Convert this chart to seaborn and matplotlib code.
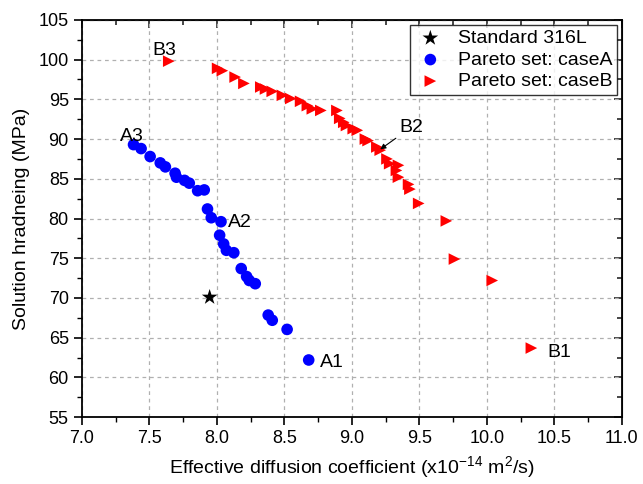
import matplotlib
matplotlib.use("Agg")
import matplotlib.pyplot as plt
import seaborn as sns
import pandas as pd
from matplotlib.ticker import MultipleLocator

# data
std_x = [7.946]
std_y = [70.1]

caseA_x = [7.382, 7.438, 7.505, 7.58, 7.618, 7.69, 7.70, 7.76, 7.795, 7.857,
           7.906, 7.93, 7.958, 8.03, 8.02, 8.05, 8.07, 8.125, 8.18, 8.22,
           8.24, 8.284, 8.38, 8.41, 8.52, 8.68]
caseA_y = [89.3, 88.8, 87.8, 87.0, 86.5, 85.7, 85.2, 84.8, 84.45, 83.5,
           83.6, 81.2, 80.1, 79.6, 77.9, 76.8, 76.0, 75.7, 73.7, 72.7,
           72.2, 71.8, 67.85, 67.2, 66.05, 62.2]

caseB_x = [7.643, 8.005, 8.04, 8.135, 8.20, 8.325, 8.36, 8.41, 8.485, 8.547,
           8.62, 8.67, 8.707, 8.77, 8.889, 8.91, 8.94, 8.96, 9.01, 9.04,
           9.10, 9.12, 9.185, 9.21, 9.26, 9.28, 9.345, 9.33, 9.345, 9.42,
           9.43, 9.495, 9.70, 9.76, 10.04, 10.33]
caseB_y = [99.8, 98.9, 98.6, 97.8, 97.0, 96.55, 96.3, 96.0, 95.5, 95.1,
           94.75, 94.2, 93.8, 93.6, 93.6, 92.6, 92.1, 91.7, 91.3, 91.1,
           90.0, 89.8, 89.0, 88.6, 87.5, 86.9, 86.7, 86.05, 85.2, 84.3,
           83.7, 81.9, 79.7, 74.9, 72.2, 63.7]

labels = ["Standard 316L", "Pareto set: caseA", "Pareto set: caseB"]

#-------------------------------------------------------------------------------#

sns.set_style("white")
plt.rcParams['font.family'] = ['Liberation Sans', 'DejaVu Sans']
plt.rcParams['mathtext.fontset'] = 'custom'
plt.rcParams['mathtext.rm'] = 'Liberation Sans'
plt.rcParams['text.color'] = 'black'
plt.rcParams['axes.labelcolor'] = 'black'

fig = plt.figure(figsize=(6.43, 4.84), dpi=100)
ax = fig.add_axes([0.1275, 0.138, 0.8395, 0.821])

dfA = pd.DataFrame({"x": caseA_x, "y": caseA_y})
dfB = pd.DataFrame({"x": caseB_x, "y": caseB_y})
dfS = pd.DataFrame({"x": std_x, "y": std_y})

sns.scatterplot(data=dfS, x="x", y="y", marker="*", color="black", s=140,
                edgecolor="none", label=labels[0], ax=ax, zorder=3)
sns.scatterplot(data=dfA, x="x", y="y", marker="o", color="#0000ff", s=70,
                edgecolor="none", label=labels[1], ax=ax, zorder=3)
sns.scatterplot(data=dfB, x="x", y="y", marker=">", color="#ff0000", s=70,
                edgecolor="none", label=labels[2], ax=ax, zorder=3)

ax.set_xlim(7.0, 11.0)
ax.set_ylim(55, 105)
ax.xaxis.set_major_locator(MultipleLocator(0.5))
ax.xaxis.set_minor_locator(MultipleLocator(0.25))
ax.yaxis.set_major_locator(MultipleLocator(5))
ax.yaxis.set_minor_locator(MultipleLocator(2.5))
ax.set_xticklabels([f"{v:.1f}" for v in ax.get_xticks()])

ax.grid(True, which="major", linestyle=(0, (3, 3)), color="#b0b0b0", linewidth=0.9)
ax.set_axisbelow(True)

for sp in ax.spines.values():
    sp.set_color("black")
    sp.set_linewidth(1.3)

ax.tick_params(which="both", direction="out", bottom=True, left=True, labelsize=13,
               colors="black")
ax.tick_params(which="major", length=6, width=1.2)
ax.tick_params(which="minor", length=3.5, width=1.0)
# top / right ticks drawn inward like the original
ax2 = ax.secondary_xaxis("top")
ax2.xaxis.set_major_locator(MultipleLocator(0.5))
ax2.xaxis.set_minor_locator(MultipleLocator(0.25))
ax2.tick_params(which="both", direction="in", labeltop=False, width=1.2)
ax2.tick_params(which="major", length=6)
ax2.tick_params(which="minor", length=3.5)
ax3 = ax.secondary_yaxis("right")
ax3.yaxis.set_major_locator(MultipleLocator(5))
ax3.yaxis.set_minor_locator(MultipleLocator(2.5))
ax3.tick_params(which="both", direction="in", labelright=False, width=1.2)
ax3.tick_params(which="major", length=6)
ax3.tick_params(which="minor", length=3.5)

ax.set_xlabel(r"Effective diffusion coefficient (x10$^{-14}$ m$^{2}$/s)", fontsize=14,
              labelpad=5)
ax.set_ylabel("Solution hradneing (MPa)", fontsize=14, labelpad=6)

# point annotations
ax.text(7.28, 89.8, "A3", fontsize=14)
ax.text(8.08, 78.9, "A2", fontsize=14)
ax.text(8.76, 61.3, "A1", fontsize=14)
ax.text(7.52, 100.6, "B3", fontsize=14)
ax.text(10.45, 62.6, "B1", fontsize=14)
ax.annotate("B2", xy=(9.21, 88.7), xytext=(9.35, 90.9), fontsize=14,
            arrowprops=dict(arrowstyle="-|>", color="black", lw=0.8,
                            mutation_scale=8, shrinkA=0, shrinkB=0))

leg = ax.legend(loc="upper right", fontsize=14, frameon=True, fancybox=False,
                borderpad=0.25, handletextpad=0.6, labelspacing=0.2,
                borderaxespad=0.25, handlelength=1.6)
leg.get_frame().set_edgecolor("black")
leg.get_frame().set_linewidth(1.0)

fig.savefig("out.png", dpi=100)
